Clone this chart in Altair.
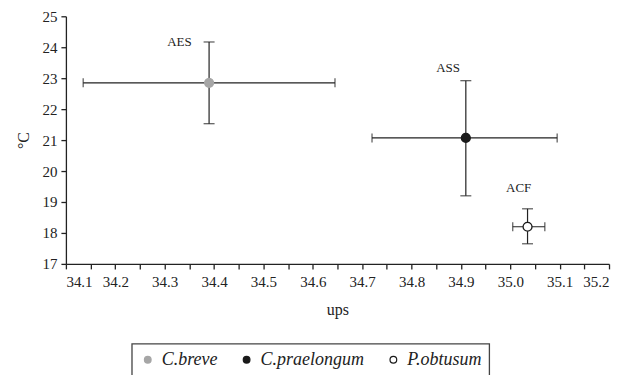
import altair as alt
import pandas as pd

sites = ["AES", "ASS", "ACF"]
species = ["C.breve", "C.praelongum", "P.obtusum"]
sal = [34.39, 34.91, 35.035]
sal_lo = [34.135, 34.72, 35.005]
sal_hi = [34.645, 35.095, 35.07]
temp = [22.85, 21.07, 18.2]
temp_lo = [21.53, 19.2, 17.65]
temp_hi = [24.17, 22.92, 18.78]
label_x = [34.33, 34.874, 35.017]
label_y = [24.16, 23.32, 19.45]

fills = ["#a6a6a6", "#1a1a1a", "#ffffff"]
strokes = ["#a6a6a6", "#1a1a1a", "#1a1a1a"]

df = pd.DataFrame({
    "site": sites, "species": species, "sal": sal, "sal_lo": sal_lo, "sal_hi": sal_hi,
    "temp": temp, "temp_lo": temp_lo, "temp_hi": temp_hi, "lx": label_x, "ly": label_y,
})

FONT = "Liberation Serif"
xticks = [round(34.1 + 0.05 * i, 2) for i in range(23)]
yticks = list(range(17, 26))

xscale = alt.Scale(domain=[34.1, 35.2], nice=False, zero=False)
yscale = alt.Scale(domain=[17, 25], nice=False, zero=False)

xaxis = alt.Axis(values=xticks, format=".1f", title="ups",
                 labelExpr="round(datum.value*20) % 2 == 0 ? format(datum.value, '.1f') : ''",
                 grid=False, tickSize=5, labelFontSize=15, titleFontSize=16,
                 titlePadding=12, labelPadding=6, labelOverlap=False,
                 labelFont=FONT, titleFont=FONT, titleFontWeight="normal")
yaxis = alt.Axis(values=yticks, title="°C", grid=False, tickSize=5,
                 labelFontSize=15, titleFontSize=16, titlePadding=10, labelPadding=4,
                 labelOverlap=False, labelFont=FONT, titleFont=FONT, titleFontWeight="normal")


def X(f):
    return alt.X(f, scale=xscale, axis=xaxis, title="ups")


def Y(f):
    return alt.Y(f, scale=yscale, axis=yaxis, title="°C")


base = alt.Chart(df)

hbar = base.mark_rule(color="#222", strokeWidth=1.2).encode(
    x=X("sal_lo:Q"), x2="sal_hi:Q", y=Y("temp:Q"))
vbar = base.mark_rule(color="#222", strokeWidth=1.2).encode(
    x=X("sal:Q"), y=Y("temp_lo:Q"), y2="temp_hi:Q")
cap_lo = base.mark_tick(color="#222", orient="horizontal", size=11, thickness=1.3).encode(
    x=X("sal:Q"), y=Y("temp_lo:Q"))
cap_hi = base.mark_tick(color="#222", orient="horizontal", size=11, thickness=1.3).encode(
    x=X("sal:Q"), y=Y("temp_hi:Q"))
capx_lo = base.mark_tick(color="#222", orient="vertical", size=9, thickness=1.3).encode(
    x=X("sal_lo:Q"), y=Y("temp:Q"))
capx_hi = base.mark_tick(color="#222", orient="vertical", size=9, thickness=1.3).encode(
    x=X("sal_hi:Q"), y=Y("temp:Q"))

pts = base.mark_point(filled=True, size=80, strokeWidth=1.3, opacity=1).encode(
    x=X("sal:Q"), y=Y("temp:Q"),
    fill=alt.Fill("species:N", scale=alt.Scale(domain=species, range=fills),
                  legend=alt.Legend(title=None)),
    stroke=alt.Stroke("species:N", scale=alt.Scale(domain=species, range=strokes),
                      legend=alt.Legend(title=None)),
    shape=alt.value("circle"))

labels = base.mark_text(font=FONT, fontSize=13, color="#222").encode(
    x=X("lx:Q"), y=Y("ly:Q"), text="site:N")

chart = alt.layer(hbar, vbar, cap_lo, cap_hi, capx_lo, capx_hi, pts, labels).properties(
    width=544, height=248, padding={"left": 8, "top": 1, "right": 5, "bottom": 5}
).configure(font=FONT).configure_axis(
    labelFont=FONT, titleFont=FONT, domainColor="#222", tickColor="#222",
    labelColor="#222", titleColor="#222", domainWidth=1.3, tickWidth=1.3
).configure_legend(
    orient="none", legendX=66, legendY=328, direction="horizontal",
    strokeColor="#444", strokeWidth=1.3, padding=7, labelFont=FONT, labelFontSize=18,
    labelFontStyle="italic", labelColor="#222", symbolSize=45, columnPadding=20,
    symbolStrokeWidth=1.2, labelOffset=5
).configure_view(stroke=None)

chart.save("out.html", embed_options={"renderer": "svg", "actions": False})
